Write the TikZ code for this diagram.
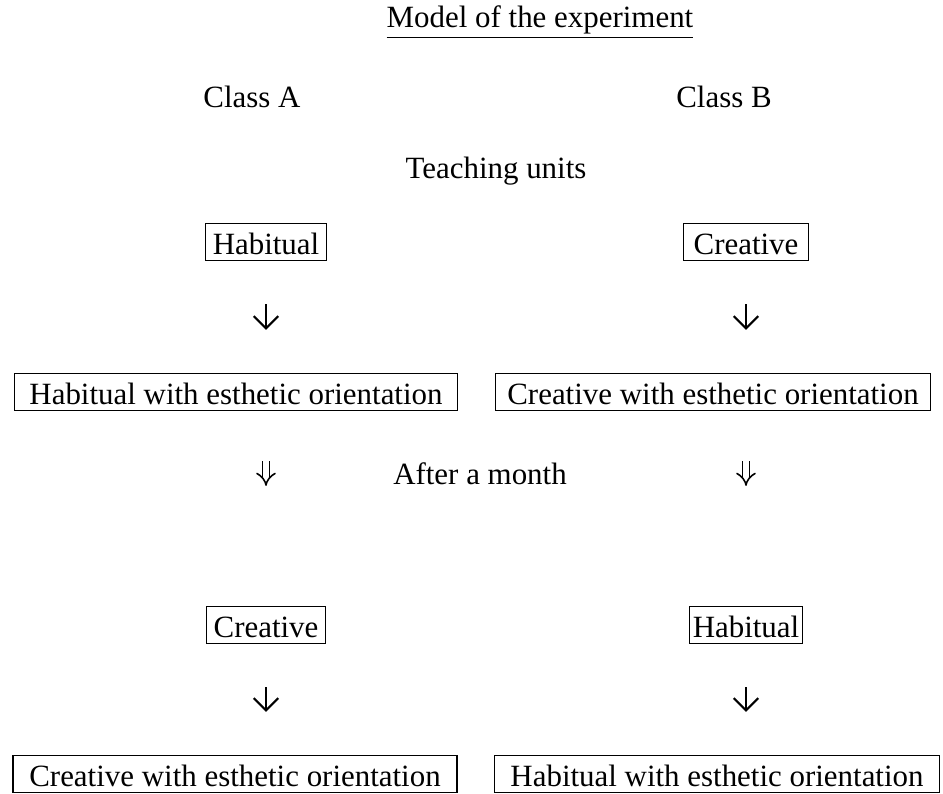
\documentclass[tikz,border=0pt]{standalone}
\usepackage{fontspec}
\setmainfont{Liberation Serif}
\usetikzlibrary{arrows.meta}

\begin{document}
\begin{tikzpicture}[x=0.02cm, y=-0.02cm, font=\fontsize{17.6}{21}\selectfont]
    \def\colA{266}
    \def\colB{746}

    % --- DEFINE STYLES ---
    % Style for plain captions
    \tikzstyle{caption} = [inner sep=0pt, anchor=base]
    % Style for boxed teaching units
    \tikzstyle{unitbox} = [draw, line width=0.8pt, inner xsep=4pt, inner ysep=1.5pt, text height=16pt, text depth=2pt]
    % Style for the wide boxes
    \tikzstyle{widebox} = [unitbox, inner xsep=0pt]
    % Style for the single arrows
    \tikzstyle{down_arrow} = [line width=1.2pt, -{Straight Barb[length=7pt, width=14pt, line width=1.2pt]}, shorten <=0.86cm, shorten >=0.86cm]
    % Style for the double arrows
    \tikzstyle{double_arrow} = [double, double distance=3pt, line width=0.9pt, -{Implies}, shorten <=1.0cm, shorten >=2.4cm]

    \useasboundingbox (0,0) rectangle (943,794);

    % Headings
    \node[caption] (title) at (540,28) {\underline{Model of the experiment}};
    \node[caption] (class_A) at (252,108) {Class A};
    \node[caption] (class_B) at (724,108) {Class B};
    \node[caption] (teaching) at (496,178) {Teaching units};

    % --- FIRST UNITS ---
    \node[unitbox] (hab_A) at (\colA,242) {Habitual};
    \node[unitbox, minimum width=2.5cm] (cre_B) at (\colB,242) {Creative};
    \node[widebox, minimum width=8.86cm] (hab_est_A) at (236,392) {Habitual with esthetic orientation};
    \node[widebox, minimum width=8.7cm] (cre_est_B) at (713,392) {Creative with esthetic orientation};

    \node[caption] (after) at (480,484) {After a month};

    % --- SWAPPED UNITS ---
    \node[unitbox] (cre_A) at (\colA,625) {Creative};
    \node[unitbox, inner xsep=2pt] (hab_B) at (\colB,625) {Habitual};
    \node[widebox, minimum width=8.88cm] (cre_est_A) at (235,774) {Creative with esthetic orientation};
    \node[widebox, minimum width=8.9cm] (hab_est_B) at (717,774) {Habitual with esthetic orientation};

    % Arrows
    \foreach \a/\b in {hab_A/hab_est_A, cre_B/cre_est_B, cre_A/cre_est_A, hab_B/hab_est_B}
        \draw[down_arrow] (\a) -- (\a |- \b.north);
    \foreach \a/\b/\c in {hab_A/hab_est_A/cre_A, cre_B/cre_est_B/hab_B}
        \draw[double_arrow] (\a |- \b.south) -- (\a |- \c.north);
\end{tikzpicture}
\end{document}
